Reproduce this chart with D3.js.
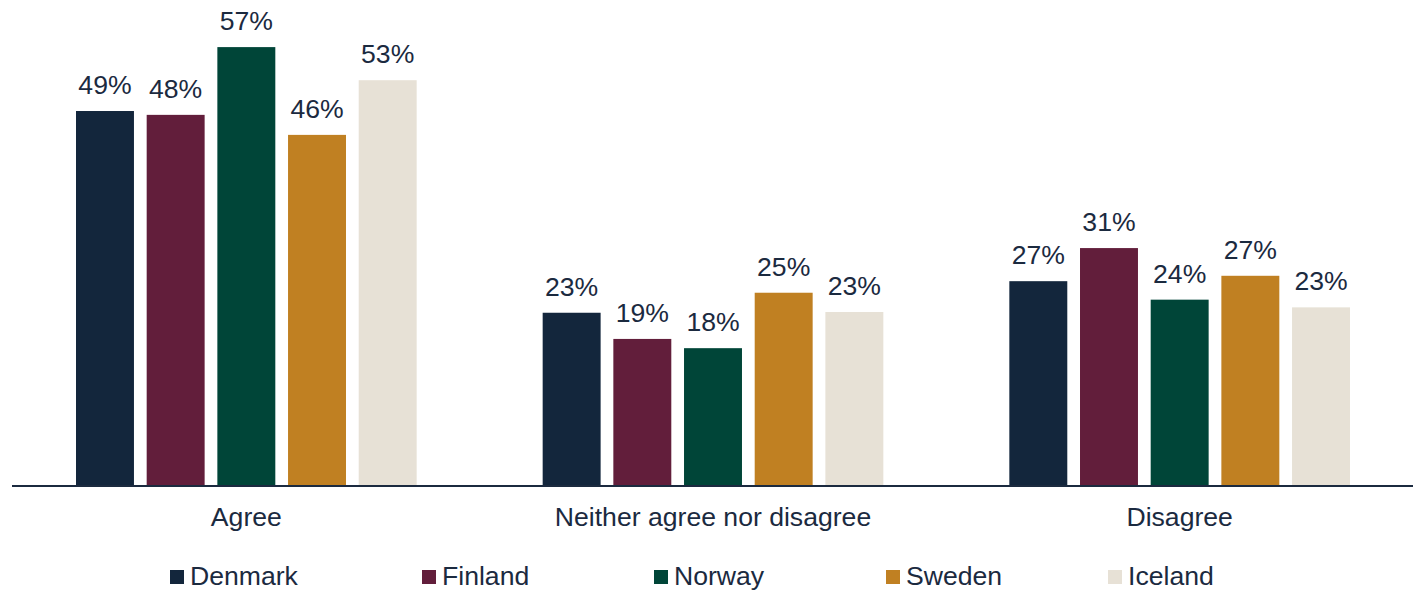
<!DOCTYPE html>
<html>
<head>
<meta charset="utf-8">
<script src="https://cdn.jsdelivr.net/npm/d3@7"></script>
<style>
  html, body { margin: 0; padding: 0; background: #ffffff; }
  svg { display: block; }
  text { font-family: "Liberation Sans", Arial, sans-serif; fill: #1b2a3f; }
</style>
</head>
<body>
<svg id="chart" width="1417" height="590"></svg>
<script>
const categories = ["Agree", "Neither agree nor disagree", "Disagree"];
const countries = ["Denmark", "Finland", "Norway", "Sweden", "Iceland"];
const colors = ["#13263c", "#621e3b", "#004538", "#c08022", "#e7e1d6"];
const denmark = [48.7, 22.5, 26.6];
const finland = [48.2, 19.1, 30.9];
const norway  = [57.0, 17.9, 24.2];
const sweden  = [45.6, 25.1, 27.3];
const iceland = [52.7, 22.6, 23.2];
const labelsDenmark = ["49%", "23%", "27%"];
const labelsFinland = ["48%", "19%", "31%"];
const labelsNorway  = ["57%", "18%", "24%"];
const labelsSweden  = ["46%", "25%", "27%"];
const labelsIceland = ["53%", "23%", "23%"];

const seriesValues = [denmark, finland, norway, sweden, iceland];
const seriesLabels = [labelsDenmark, labelsFinland, labelsNorway, labelsSweden, labelsIceland];

const rows = [];
countries.forEach((c, i) => {
  categories.forEach((cat, j) => {
    rows.push({ country: c, category: cat, value: seriesValues[i][j], label: seriesLabels[i][j], color: colors[i] });
  });
});

const svg = d3.select("#chart");
const baseline = 486;
const fs = "26.6px";
const x0 = d3.scaleBand().domain(categories).range([13, 1413]).padding(0);
const x1 = d3.scaleBand().domain(countries)
  .range([63, x0.bandwidth() - 63]).paddingInner(0.18).paddingOuter(0);
const y = d3.scaleLinear().domain([0, 60]).range([baseline, baseline - 60 * 7.7]);
const color = d3.scaleOrdinal().domain(countries).range(colors);

const g = svg.append("g");
g.selectAll("rect.bar").data(rows).join("rect")
  .attr("class", "bar")
  .attr("x", d => x0(d.category) + x1(d.country))
  .attr("y", d => y(d.value))
  .attr("width", x1.bandwidth())
  .attr("height", d => y(0) - y(d.value))
  .attr("fill", d => color(d.country));

g.selectAll("text.val").data(rows).join("text")
  .attr("class", "val")
  .attr("x", d => x0(d.category) + x1(d.country) + x1.bandwidth() / 2)
  .attr("y", d => y(d.value) - 17)
  .attr("text-anchor", "middle")
  .style("font-size", fs)
  .text(d => d.label);

// x axis
const xAxis = d3.axisBottom(x0).tickSize(0).tickPadding(0);
const axisG = svg.append("g").attr("transform", `translate(0,${baseline})`).call(xAxis);
axisG.select(".domain").attr("stroke", "#1b2a3f").attr("stroke-width", 2)
  .attr("d", `M12,0H1413`);
axisG.selectAll(".tick text")
  .attr("y", 40)
  .attr("dy", null)
  .style("font-size", fs)
  .style("font-family", '"Liberation Sans", Arial, sans-serif')
  .attr("fill", "#1b2a3f");

// legend
const legendX = d3.scaleOrdinal().domain(countries).range([170, 422, 654, 886, 1108]);
const leg = svg.append("g");
const items = leg.selectAll("g").data(countries).join("g")
  .attr("transform", d => `translate(${legendX(d)},0)`);
items.append("rect")
  .attr("x", 0).attr("y", 570).attr("width", 14).attr("height", 14)
  .attr("fill", d => color(d));
items.append("text")
  .attr("x", 20).attr("y", 585)
  .style("font-size", fs)
  .text(d => d);
</script>
</body>
</html>
